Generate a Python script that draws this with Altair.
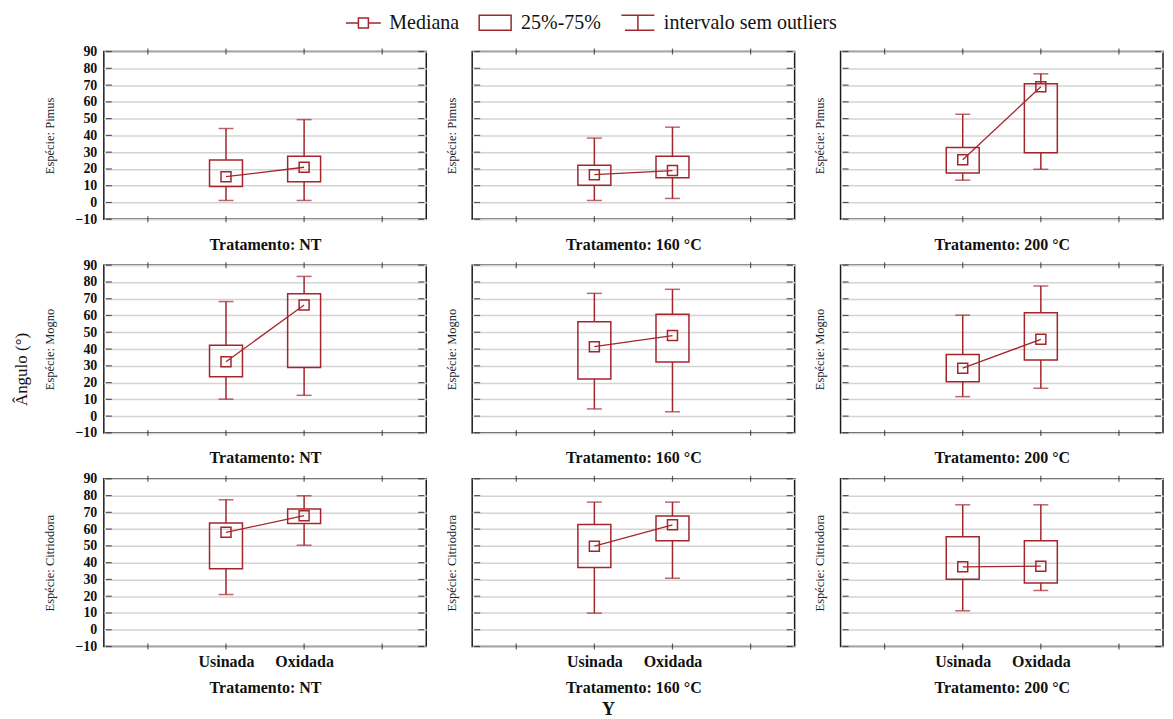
import altair as alt
import pandas as pd

# ---------------- data ----------------
species = ["Pimus", "Mogno", "Citriodora"]
treatments = ["NT", "160 °C", "200 °C"]
conditions = ["Usinada", "Oxidada"]

# order: species -> treatment -> condition (Usinada, Oxidada)
whisker_low = [1.2, 1.2, 1.2, 2.4, 13.3, 19.8,
               10.1, 12.4, 4.3, 2.6, 11.6, 16.6,
               21.0, 50.4, 9.9, 30.7, 11.3, 23.4]
box_q1 = [9.5, 12.3, 10.3, 14.8, 17.6, 29.7,
          23.5, 29.0, 22.1, 32.2, 20.5, 33.4,
          36.3, 63.4, 37.1, 53.1, 30.1, 27.8]
medians = [15.4, 21.0, 16.6, 19.0, 25.5, 69.0,
           32.4, 66.3, 41.4, 48.0, 28.6, 45.8,
           58.1, 68.0, 49.8, 62.6, 37.5, 37.9]
box_q3 = [25.3, 27.5, 22.2, 27.5, 32.8, 70.8,
          42.2, 73.0, 56.2, 60.8, 36.7, 61.6,
          63.6, 72.0, 62.8, 67.8, 55.5, 53.1]
whisker_high = [44.1, 49.4, 38.4, 44.9, 52.6, 76.7,
                68.3, 83.3, 73.2, 75.6, 60.2, 77.6,
                77.5, 79.9, 76.1, 76.1, 74.5, 74.5]

y_ticks = list(range(-10, 91, 10))
x_slots = [1, 2, 3, 4]
legend_items = ["Mediana", "25%-75%", "intervalo sem outliers"]
legend_paths = [
    "M-1.75,0H-0.5M0.5,0H1.75M-0.5,-0.5H0.5V0.5H-0.5Z",
    "M-1.6,-0.75H1.6V0.75H-1.6Z",
    "M-1.65,-0.75H1.65M0,-0.75V0.75M-1.3,0.75H1.65",
]

RED = "#a3262c"
EDGE = "#1c1c1c"
FONT = "Liberation Serif"

rows = []
k = 0
for s in species:
    for t in treatments:
        for ci, c in enumerate(conditions):
            rows.append(dict(species=s, treatment=t, condition=c, pos=ci + 2,
                             low=whisker_low[k], q1=box_q1[k], med=medians[k],
                             q3=box_q3[k], high=whisker_high[k]))
            k += 1
df = pd.DataFrame(rows)

xt_df = pd.DataFrame({"xt": x_slots})
yt_df = pd.DataFrame({"yt": y_ticks})
leg_df = pd.DataFrame({"item": legend_items})

PW, PH = 323, 168
Y_MIN, Y_MAX = -10, 90
X_MIN, X_MAX = 0.5, 4.5

xs = alt.Scale(domain=[X_MIN, X_MAX], nice=False, zero=False)
ys = alt.Scale(domain=[Y_MIN, Y_MAX], nice=False, zero=False)

label_expr = " : ".join(
    [f"datum.value == {i + 2} ? '{c}'" for i, c in enumerate(conditions)] + ["''"]
)


def panel(r, c):
    s = species[r]
    t = treatments[c]
    d = df[(df.species == s) & (df.treatment == t)]
    base = alt.Chart(d)
    bottom = r == 2
    left = c == 0
    xaxis = alt.Axis(values=[i + 2 for i in range(len(conditions))], labelExpr=label_expr,
                     labels=bottom, ticks=False, domain=False, grid=False,
                     title=f"Tratamento: {t}", titleFont=FONT, titleFontSize=16,
                     titleFontWeight="bold", titleColor="#111",
                     titleY=41 if bottom else 25, titleBaseline="middle",
                     labelFont=FONT, labelFontSize=16, labelFontWeight="bold",
                     labelColor="#111", labelPadding=7)
    yaxis = alt.Axis(values=y_ticks, labels=left, ticks=False, domain=False, grid=True,
                     gridColor="#d4d4d4", gridWidth=1.5,
                     title=f"Espécie: {s}", titleFont=FONT, titleFontSize=12.5,
                     titleFontWeight="normal", titleColor="#222",
                     titleX=-54 if left else -21, titleY=PH / 2, titleBaseline="middle",
                     labelFont=FONT, labelFontSize=14, labelFontWeight="bold",
                     labelColor="#111", labelPadding=7, labelFlush=False, labelOverlap=False)

    def X(f):
        return alt.X(f, scale=xs, axis=xaxis, title=f"Tratamento: {t}")

    def Y(f):
        return alt.Y(f, scale=ys, axis=yaxis, title=f"Espécie: {s}")

    box = base.mark_bar(size=33, fill="transparent", stroke=RED, strokeWidth=1.5).encode(
        x=X("pos:Q"), y=Y("q1:Q"), y2="q3:Q")
    w_lo = base.mark_rule(color=RED, strokeWidth=1.5).encode(
        x=X("pos:Q"), y=Y("low:Q"), y2="q1:Q")
    w_hi = base.mark_rule(color=RED, strokeWidth=1.5).encode(
        x=X("pos:Q"), y=Y("q3:Q"), y2="high:Q")
    cap_lo = base.mark_tick(orient="horizontal", size=15, thickness=1.5, color=RED).encode(
        x=X("pos:Q"), y=Y("low:Q"))
    cap_hi = base.mark_tick(orient="horizontal", size=15, thickness=1.5, color=RED).encode(
        x=X("pos:Q"), y=Y("high:Q"))
    line = base.mark_line(color=RED, strokeWidth=1.3).encode(
        x=X("pos:Q"), y=Y("med:Q"))
    med = base.mark_point(shape="square", size=100, filled=False, color=RED,
                          strokeWidth=1.5, opacity=1).encode(
        x=X("pos:Q"), y=Y("med:Q"))

    tk_top = alt.Chart(xt_df).mark_tick(orient="vertical", size=6, thickness=1.2, color=EDGE).encode(
        x=X("xt:Q"), y=alt.YDatum(Y_MAX, scale=ys, axis=yaxis, title=f"Espécie: {s}", type="quantitative"))
    tk_bot = alt.Chart(xt_df).mark_tick(orient="vertical", size=6, thickness=1.2, color=EDGE).encode(
        x=X("xt:Q"), y=alt.YDatum(Y_MIN, scale=ys, axis=yaxis, title=f"Espécie: {s}", type="quantitative"))
    tk_l = alt.Chart(yt_df).mark_tick(orient="horizontal", size=6, thickness=1.2, color=EDGE).encode(
        y=Y("yt:Q"), x=alt.XDatum(X_MIN, scale=xs, axis=xaxis, title=f"Tratamento: {t}", type="quantitative"))
    tk_r = alt.Chart(yt_df).mark_tick(orient="horizontal", size=6, thickness=1.2, color=EDGE).encode(
        y=Y("yt:Q"), x=alt.XDatum(X_MAX, scale=xs, axis=xaxis, title=f"Tratamento: {t}", type="quantitative"))

    layers = [box, w_lo, w_hi, cap_lo, cap_hi, line, med, tk_top, tk_bot, tk_l, tk_r]
    if r == 0 and c == 0:
        leg = alt.Chart(leg_df).mark_point(opacity=0, filled=False, color=RED).encode(
            shape=alt.Shape("item:N",
                            scale=alt.Scale(domain=legend_items, range=legend_paths),
                            legend=alt.Legend(orient="none", legendX=249, legendY=-40,
                                              direction="horizontal", title=None,
                                              symbolSize=400, symbolStrokeWidth=1.5,
                                              symbolStrokeColor=RED, symbolFillColor="transparent",
                                              symbolOpacity=1,
                                              labelFont=FONT, labelFontSize=20,
                                              labelColor="#111", labelOffset=15,
                                              labelLimit=500, columnPadding=17)))
        layers.append(leg)
    return alt.layer(*layers).properties(
        width=PW, height=PH,
        view=alt.ViewBackground(stroke=EDGE, strokeWidth=1.5),
    )


panels = [panel(r, c) for r in range(3) for c in range(3)]

grid = alt.concat(*panels, columns=3, spacing=46, bounds="flush").resolve_legend(
    shape="independent"
).properties(
    title=alt.TitleParams("Ângulo (°)", orient="left", anchor="middle", font=FONT,
                          fontSize=17, fontWeight="normal", color="#111", offset=12, dx=-16)
)

chart = alt.vconcat(grid).properties(
    title=alt.TitleParams("Y", orient="bottom", anchor="middle", font=FONT, fontSize=18,
                          fontWeight="bold", color="#111", offset=5, dx=20),
    padding={"left": 5, "top": 2, "right": 1, "bottom": 0},
).configure_view(stroke=EDGE, strokeWidth=1.5).configure_axis(
    labelFont=FONT, titleFont=FONT
).configure_legend(labelFont=FONT).configure_title(font=FONT).configure(
    font=FONT, background="white")

chart.save("out.html", embed_options={"renderer": "svg", "actions": False})
